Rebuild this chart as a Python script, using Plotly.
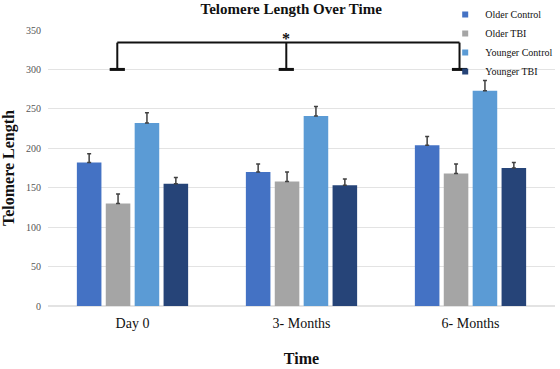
import plotly.graph_objects as go

categories = ["Day 0", "3- Months", "6- Months"]
series_names = ["Older Control", "Older TBI", "Younger Control", "Younger TBI"]
older_control = [182, 170, 204]
older_control_err = [11, 10, 11]
older_tbi = [130, 158, 168]
older_tbi_err = [12, 12, 12]
younger_control = [232, 241, 273]
younger_control_err = [13, 12, 13]
younger_tbi = [155, 153, 175]
younger_tbi_err = [8, 8, 7]
y_ticks = [0, 50, 100, 150, 200, 250, 300, 350]
bracket_low = 300
bracket_high = 334

values = [older_control, older_tbi, younger_control, younger_tbi]
errors = [older_control_err, older_tbi_err, younger_control_err, younger_tbi_err]
colors = ["#4472C4", "#A5A5A5", "#5B9BD5", "#264478"]

SERIF = "Liberation Serif, Times New Roman, serif"

fig = go.Figure()
for name, vals, errs, col in zip(series_names, values, errors, colors):
    fig.add_trace(go.Bar(
        name=name, x=categories, y=vals, marker=dict(color=col, line=dict(width=0)),
        showlegend=False,
        error_y=dict(type="data", array=errs, arrayminus=[0] * len(errs), symmetric=False,
                     color="#404040", thickness=1.5, width=2),
    ))
# legend entries with small square swatches
for name, col in zip(series_names, colors):
    fig.add_trace(go.Scatter(
        name=name, x=[None], y=[None], mode="markers",
        marker=dict(symbol="square", size=6, color=col), showlegend=True,
    ))

# significance bracket (x positions relative to category index)
leg_x = [-0.09, 0.91, 1.935]
shapes = []
shapes.append(dict(type="line", xref="x", yref="y", x0=leg_x[0], x1=leg_x[-1],
                   y0=bracket_high, y1=bracket_high, line=dict(color="#111111", width=2)))
for lx in leg_x:
    shapes.append(dict(type="line", xref="x", yref="y", x0=lx, x1=lx,
                       y0=bracket_low, y1=bracket_high, line=dict(color="#111111", width=2)))
    shapes.append(dict(type="line", xref="x", yref="y", x0=lx - 0.045, x1=lx + 0.045,
                       y0=bracket_low, y1=bracket_low, line=dict(color="#111111", width=3)))

fig.update_layout(
    width=560, height=369,
    margin=dict(l=48, r=5, t=30, b=63, autoexpand=False),
    paper_bgcolor="white", plot_bgcolor="white",
    barmode="group", bargap=0.316, bargroupgap=0.15,
    shapes=shapes,
    title=dict(text="<b>Telomere Length Over Time</b>", x=0.52, xanchor="center",
               y=0.975, yanchor="middle", font=dict(family=SERIF, size=15, color="#111111")),
    font=dict(family=SERIF, color="#111111"),
    legend=dict(x=0.795, y=1.015, xref="container", yref="container", xanchor="left", yanchor="top",
                bgcolor="rgba(0,0,0,0)", font=dict(family=SERIF, size=10, color="#111111"),
                tracegroupgap=0, itemwidth=30),
    annotations=[dict(x=leg_x[1], y=bracket_high, xref="x", yref="y", text="<b>*</b>",
                      showarrow=False, yanchor="bottom", yshift=-6,
                      font=dict(family=SERIF, size=16, color="#111111"))],
)
fig.update_xaxes(
    showline=False, showgrid=False, ticks="", automargin=False, ticklabelstandoff=7,
    tickfont=dict(family=SERIF, size=14, color="#111111"),
    title=dict(text="<b>Time</b>", font=dict(family=SERIF, size=16, color="#111111"), standoff=22),
)
fig.update_yaxes(
    range=[0, 350], tickvals=y_ticks, showgrid=True, gridcolor="#E3E3E3", gridwidth=1,
    zeroline=True, zerolinecolor="#E3E3E3", showline=False, ticks="", automargin=False,
    tickfont=dict(family=SERIF, size=10, color="#555555"), ticklabelstandoff=6,
    title=dict(text="<b>Telomere Length</b>", font=dict(family=SERIF, size=16, color="#111111"), standoff=8),
)
fig.write_html("out.html", config={"displayModeBar": False},
               post_script="document.body.style.margin='0';")
